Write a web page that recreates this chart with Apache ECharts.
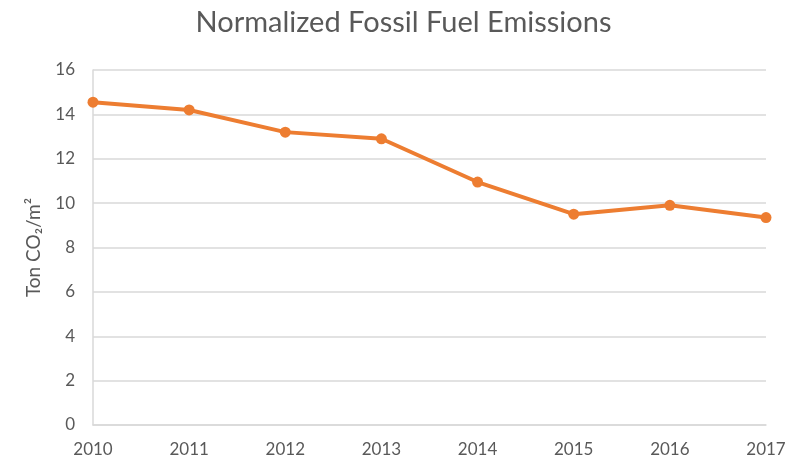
<!DOCTYPE html>
<html>
<head>
<meta charset="utf-8">
<script src="https://cdn.jsdelivr.net/npm/echarts@6/dist/echarts.min.js"></script>
<style>
  html, body { margin: 0; padding: 0; background: #fff; }
  #chart { width: 807px; height: 462px; }
</style>
</head>
<body>
<div id="chart"></div>
<script>
// data
var years = ['2010', '2011', '2012', '2013', '2014', '2015', '2016', '2017'];
var emissions = [14.55, 14.2, 13.2, 12.9, 10.95, 9.5, 9.9, 9.35];
var yTicks = [0, 2, 4, 6, 8, 10, 12, 14, 16];

var myChart = echarts.init(document.getElementById('chart'));

var option = {
    backgroundColor: '#fff',
    textStyle: { fontFamily: 'Lato, "Open Sans", sans-serif' },
    title: {
        text: 'Normalized Fossil Fuel Emissions',
        left: 'center',
        top: 3,
        textStyle: { color: '#595959', fontSize: 29, fontWeight: 'normal', fontFamily: 'Lato' }
    },
    grid: { left: 93, right: 41, top: 70, bottom: 37 },
    xAxis: {
        type: 'category',
        data: years,
        boundaryGap: false,
        axisLine: { lineStyle: { color: '#d9d9d9', width: 1.5 } },
        axisTick: { show: false },
        axisLabel: { color: '#595959', fontSize: 17, margin: 16 }
    },
    yAxis: {
        type: 'value',
        min: yTicks[0],
        max: yTicks[yTicks.length - 1],
        interval: 2,
        name: 'Ton CO\u2082/m\u00b2',
        nameLocation: 'middle',
        nameGap: 50,
        nameTextStyle: { color: '#595959', fontSize: 19 },
        axisLine: { show: true, lineStyle: { color: '#d9d9d9', width: 1.5 } },
        axisTick: { show: false },
        splitLine: { lineStyle: { color: '#d9d9d9', width: 1.5 } },
        axisLabel: { color: '#595959', fontSize: 17, margin: 18 }
    },
    series: [{
        type: 'line',
        data: emissions,
        color: '#ed7d31',
        symbol: 'circle',
        symbolSize: 11,
        lineStyle: { width: 4, color: '#ed7d31' },
        itemStyle: { color: '#ed7d31' },
        animation: false
    }]
};

myChart.setOption(option);
</script>
</body>
</html>
